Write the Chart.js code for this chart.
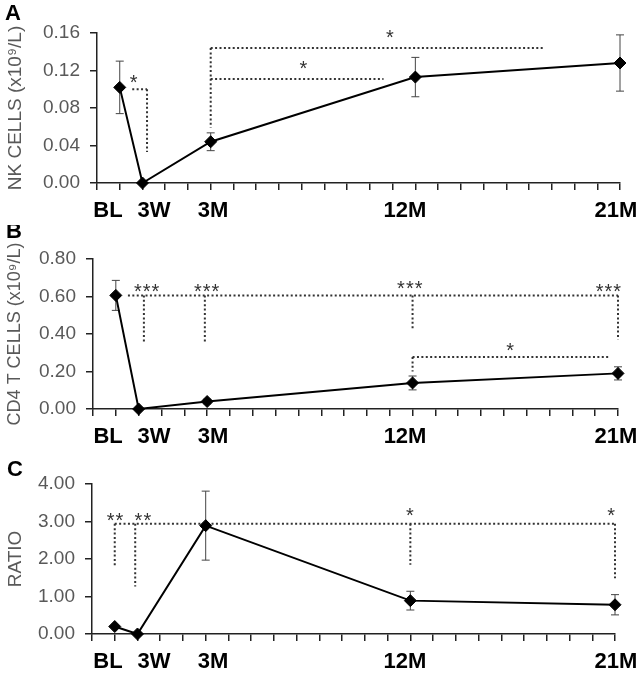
<!DOCTYPE html>
<html>
<head>
<meta charset="utf-8">
<script src="https://cdn.jsdelivr.net/npm/chart.js@4.4.1/dist/chart.umd.min.js"></script>
<style>
  html, body { margin: 0; padding: 0; background: #fff; }
  canvas { display: block; }
</style>
</head>
<body>
<canvas id="chartA" width="641" height="225"></canvas>
<canvas id="chartB" width="641" height="225"></canvas>
<canvas id="chartC" width="641" height="224"></canvas>
<script>
// time points in months (3W = 0, BL one month before)
const months = [-1, 0, 3, 12, 21];
const timeLabels = ['BL', '3W', '3M', '12M', '21M'];

const nkCells = [0.102, 0, 0.044, 0.113, 0.128];
const nkErr = [0.028, 0, 0.0095, 0.021, 0.03];
const cd4Cells = [0.606, 0, 0.04, 0.139, 0.19];
const cd4Err = [0.08, 0, 0.012, 0.037, 0.035];
const ratio = [0.2, 0, 2.89, 0.89, 0.78];
const ratioErr = [0, 0, 0.92, 0.25, 0.27];

// significance brackets, in data units: segments [x1, y1, x2, y2], stars [x, y, text]
const nkLines = [[-0.45, 0.100, 0.2, 0.100], [0.2, 0.100, 0.2, 0.033],
                 [3, 0.144, 17.7, 0.144], [3, 0.144, 3, 0.059], [3, 0.111, 10.6, 0.111]];
const nkStars = [[-0.37, 0.113, '*'], [7.1, 0.128, '*'], [10.9, 0.161, '*']];

const cd4Lines = [[-0.47, 0.606, 21, 0.606], [0.23, 0.606, 0.23, 0.352], [2.9, 0.606, 2.9, 0.352],
                  [12, 0.606, 12, 0.423], [21, 0.606, 21, 0.37],
                  [12, 0.277, 20.6, 0.277], [12, 0.277, 12, 0.2]];
const cd4Stars = [[0.37, 0.654, '***'], [3.0, 0.654, '***'], [11.9, 0.672, '***'],
                  [20.6, 0.654, '***'], [16.3, 0.338, '*']];

const ratioLines = [[-1, 2.94, 21, 2.94], [-1, 2.94, -1, 1.8], [-0.1, 2.94, -0.1, 1.27],
                    [12, 2.94, 12, 1.85], [21, 2.94, 21, 1.49]];
const ratioStars = [[-0.97, 3.16, '**'], [0.26, 3.16, '**'], [12, 3.3, '*'], [20.85, 3.3, '*']];

// where the time labels sit along each x axis (they are nudged off their ticks)
const labelAtA = [-1.52, 0.51, 3.10, 11.54, 20.82];
const labelAtB = [-1.34, 0.67, 3.26, 11.67, 20.91];
const labelAtC = [-1.30, 0.73, 3.32, 11.76, 21.04];

const FONT = '"Liberation Sans", Arial, sans-serif';
Chart.defaults.font.family = FONT;

function makePanel(id, p) {
  const canvas = document.getElementById(id);
  const H = canvas.height;

  const extras = {
    id: 'extras',
    beforeDatasetsDraw(chart) {
      const { ctx, scales: { x, y } } = chart;
      ctx.save();
      // error bars
      ctx.strokeStyle = '#444';
      ctx.lineWidth = 1;
      p.err.forEach((e, i) => {
        if (!e) return;
        const px = x.getPixelForValue(months[i]);
        const t = y.getPixelForValue(p.values[i] + e);
        const b = y.getPixelForValue(p.values[i] - e);
        ctx.beginPath();
        ctx.moveTo(px, t); ctx.lineTo(px, b);
        ctx.moveTo(px - 4, t); ctx.lineTo(px + 4, t);
        ctx.moveTo(px - 4, b); ctx.lineTo(px + 4, b);
        ctx.stroke();
      });
      // dotted brackets
      ctx.strokeStyle = '#333';
      ctx.lineWidth = 2;
      ctx.setLineDash([2, 2.4]);
      p.lines.forEach(([x1, y1, x2, y2]) => {
        ctx.beginPath();
        ctx.moveTo(x.getPixelForValue(x1), y.getPixelForValue(y1));
        ctx.lineTo(x.getPixelForValue(x2), y.getPixelForValue(y2));
        ctx.stroke();
      });
      ctx.setLineDash([]);
      // stars
      ctx.font = '20px ' + FONT;
      ctx.fillStyle = '#333';
      ctx.textAlign = 'center';
      ctx.textBaseline = 'alphabetic';
      ctx.letterSpacing = '1px';
      p.stars.forEach(([sx, sy, txt]) => {
        ctx.fillText(txt, x.getPixelForValue(sx), y.getPixelForValue(sy) + 11.5);
      });
      ctx.restore();
    },
    afterDraw(chart) {
      const ctx = chart.ctx;
      ctx.save();
      ctx.font = 'bold 22px ' + FONT;
      ctx.fillStyle = '#000';
      ctx.textBaseline = 'alphabetic';
      ctx.fillText(p.letter, p.letterPos[0], p.letterPos[1]);
      ctx.restore();
    }
  };

  return new Chart(canvas, {
    type: 'line',
    data: {
      datasets: [{
        data: months.map((m, i) => ({ x: m, y: p.values[i] })),
        borderColor: '#000',
        borderWidth: 2,
        pointStyle: 'rectRot',
        pointRadius: 6,
        pointBorderWidth: 1,
        pointBackgroundColor: '#000',
        pointBorderColor: '#000',
        tension: 0,
        clip: false
      }]
    },
    options: {
      responsive: false,
      animation: false,
      events: [],
      layout: { padding: { top: p.top, left: 0, right: 641 - p.right, bottom: 0 } },
      plugins: { legend: { display: false }, tooltip: { enabled: false } },
      scales: {
        // monthly tick marks
        x: {
          type: 'linear',
          min: -2,
          max: 21,
          ticks: { stepSize: 1, autoSkip: false, display: false },
          grid: { drawOnChartArea: false, tickLength: 7, color: '#222', lineWidth: 1.5 },
          border: { color: '#222', width: 1.5 },
          afterFit: s => {
            s.height = 7;
            s.paddingLeft = 0;
            s.paddingRight = 0;
          }
        },
        // time point labels
        xLabels: {
          type: 'linear',
          position: 'bottom',
          axis: 'x',
          min: -2,
          max: 21,
          afterBuildTicks: s => { s.ticks = p.labelAt.map(v => ({ value: v })); },
          ticks: {
            autoSkip: false,
            maxRotation: 0,
            color: '#000',
            padding: 8,
            font: { size: 22, weight: 'bold' },
            callback: (v, i) => timeLabels[i]
          },
          grid: { display: false, drawTicks: false },
          border: { display: false },
          afterFit: s => {
            s.height = H - p.top - 150 - 7;
            s.paddingLeft = 0;
            s.paddingRight = 0;
          }
        },
        y: {
          min: 0,
          max: p.yMax,
          ticks: {
            stepSize: p.yStep,
            color: '#595959',
            padding: 10,
            font: { size: 19 },
            callback: v => v.toFixed(2)
          },
          grid: { drawOnChartArea: false, tickLength: 7, color: '#222', lineWidth: 1.5 },
          border: { color: '#222', width: 1.5 },
          title: {
            display: true,
            text: p.title,
            color: '#595959',
            font: { size: p.titleSize },
            padding: { top: 4, bottom: 0 }
          },
          afterFit: s => { s.width = p.left; }
        }
      }
    },
    plugins: [extras]
  });
}

makePanel('chartA', {
  values: nkCells, err: nkErr, lines: nkLines, stars: nkStars, labelAt: labelAtA,
  title: 'NK CELLS (x10⁹/L)', titleSize: 19, yMax: 0.16, yStep: 0.04,
  top: 33, left: 97, right: 620, letter: 'A', letterPos: [5, 20]
});
makePanel('chartB', {
  values: cd4Cells, err: cd4Err, lines: cd4Lines, stars: cd4Stars, labelAt: labelAtB,
  title: 'CD4 T CELLS (x10⁹/L)', titleSize: 18, yMax: 0.8, yStep: 0.2,
  top: 34, left: 93, right: 618, letter: 'B', letterPos: [6, 13]
});
makePanel('chartC', {
  values: ratio, err: ratioErr, lines: ratioLines, stars: ratioStars, labelAt: labelAtC,
  title: 'RATIO', titleSize: 19, yMax: 4, yStep: 1,
  top: 34, left: 92, right: 615, letter: 'C', letterPos: [7, 26]
});
</script>
</body>
</html>
